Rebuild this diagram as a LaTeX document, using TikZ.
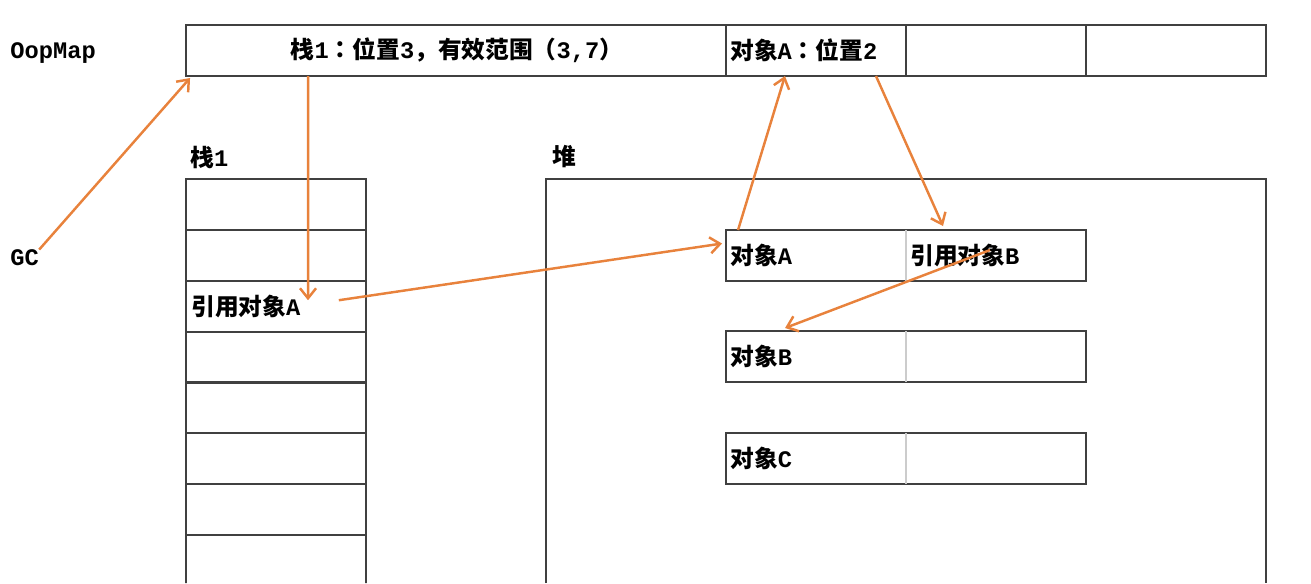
\documentclass[tikz,border=0pt]{standalone}
\usepackage{fontspec}
\setmainfont{Liberation Mono}
\newfontfamily\cjk{Noto Sans CJK SC}
\newfontfamily\cjkjp{Noto Sans CJK JP}
\newcommand{\zh}[1]{{\cjk #1}}
\newcommand{\colonzh}{{\cjkjp ：}}
\usepackage{tikz}
\usetikzlibrary{positioning,arrows.meta,calc}
\definecolor{ptrorange}{RGB}{232,130,60}
\tikzset{box/.style={draw=black!75, line width=1.1pt}}

\begin{document}
\begin{tikzpicture}[x=0.02cm,y=-0.02cm,
cell/.style={box, minimum width=3.6cm, minimum height=1.02cm, inner sep=0pt, outer sep=0pt},
row/.style={cell, minimum width=7.2cm},
lbl/.style={font=\bfseries\fontsize{13.5}{15}\selectfont, inner sep=0pt, anchor=west},
ptr/.style={draw=ptrorange, line width=1.4pt, -{Straight Barb[length=2mm,width=3.2mm]}},
]
\useasboundingbox (0,0) rectangle (1311,583);

% OopMap
\node[cell, minimum width=10.8cm] (map1) at (456,50.5) {};
\node[cell, right=0pt of map1] (map2) {};
\node[cell, right=0pt of map2] (map3) {};
\node[cell, right=0pt of map3] (map4) {};
\node[lbl] (oopmap) at (10,53) {OopMap};
\node[lbl, anchor=center] (slot1) at ($(map1)+(1,0)$) {\zh{栈}1\colonzh\zh{位置}3\zh{，有效范围（}3,7\zh{）}};
\node[lbl] (slot2) at ($(map2.west)+(4,0)$) {\zh{对象}A\colonzh\zh{位置}2};
\node[lbl] (gc) at (10,258) {GC};

% stack
\node[lbl] (stklbl) at (190,157) {\zh{栈}1};
\foreach \i in {0,...,6}
  \node[cell] (stk\i) at (276,{204.5+50.86*\i}) {};
\draw[box] (stk6.south west) -- (186,583);
\draw[box] (stk6.south east) -- (366,583);
\node[lbl] (refA) at ($(stk2.west)+(5,0)$) {\zh{引用对象}A};

% heap
\node[lbl] (heaplbl) at (552,157) {\zh{堆}};
\draw[box] (546,583) |- (1266,179) -- (1266,583);
\node[row] (objA) at (906,255.5) {};
\node[row] (objB) at (906,356.5) {};
\node[row] (objC) at (906,458.5) {};
\foreach \o in {objA,objB,objC}
  \draw[black!20, line width=0.8pt] (\o.north) -- (\o.south);
\node[lbl] (tA) at ($(objA.west)+(4,0)$) {\zh{对象}A};
\node[lbl] (tRefB) at ($(objA.center)+(4,0)$) {\zh{引用对象}B};
\node[lbl] (tB) at ($(objB.west)+(4,0)$) {\zh{对象}B};
\node[lbl] (tC) at ($(objC.west)+(4,0)$) {\zh{对象}C};

% pointers
\draw[ptr] (gc.north east) -- ($(map1.south west)+(4,2)$);
\draw[ptr] ($(map1.south west)+(122,0)$) -- ($(stk2.west)+(122,-6)$);
\draw[ptr] ($(refA.east)+(38,-6)$) -- ($(objA.west)+(-4,-12)$);
\draw[ptr] ($(objA.north west)+(12,0)$) -- ($(map2.south west)+(59,0)$);
\draw[ptr] ($(map2.south west)+(150,0)$) -- ($(objA.north)+(37,-4)$);
\draw[ptr] ($(objA.north)+(84,20)$) -- ($(objB.north west)+(59,-3)$);
\end{tikzpicture}
\end{document}
